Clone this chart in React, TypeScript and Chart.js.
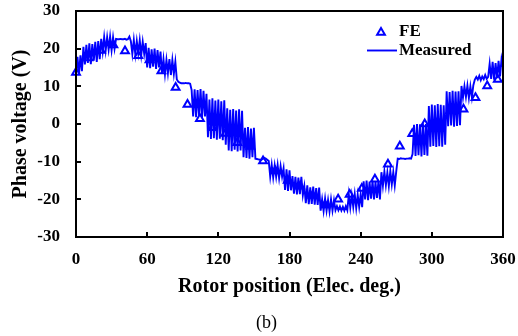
import React, { useEffect, useRef } from "react";
import { Chart, registerables } from "chart.js";

Chart.register(...registerables);

const X_TICKS = [0, 60, 120, 180, 240, 300, 360];
const Y_TICKS = [-30, -20, -10, 0, 10, 20, 30];
const SERIES_NAMES = ["FE", "Measured"];
const X_TITLE = "Rotor position (Elec. deg.)";
const Y_TITLE = "Phase voltage (V)";
const CAPTION = "(b)";

const FE_DEG = [
  0, 10.5, 21, 31.5, 41.3, 52.5, 62, 72, 84, 94, 104.5, 115, 126, 136, 147,
  157.7, 168, 178.5, 189, 199.5, 210, 221, 230.7, 241, 252, 263, 273, 283.5,
  294, 305, 315.5, 326.7, 336.8, 346.7, 355.6,
];
const FE_V = [
  13.7, 17.5, 19.5, 21.0, 19.4, 18.1, 17.0, 14.1, 9.7, 5.2, 1.4, -1.0, -2.5,
  -5.0, -6.0, -9.8, -12.5, -15.0, -16.5, -19.0, -21.5, -20.0, -18.7, -17.1,
  -14.7, -10.7, -5.9, -2.6, 0.0, 0.5, 3.5, 3.9, 7.0, 10.1, 11.8,
];

const MEAS_STEP_DEG = 1.25;
const MEAS_V = [
  // 0-10
  13.5, 17.8, 13.2, 18.2, 14.0, 20.5, 15.8, 21.0,
  // 10-20
  16.2, 21.4, 15.9, 21.2, 16.8, 21.8, 16.5, 22.0,
  // 20-30
  17.2, 22.6, 19.2, 23.1, 19.5, 23.0, 19.8, 23.2,
  // 30-40
  19.6, 23.0, 20.0, 22.6, 22.5, 22.5, 22.6, 22.5,
  // 40-50
  22.5, 22.6, 22.4, 22.5, 23.2, 22.0, 18.6, 22.3,
  // 50-60
  18.5, 22.0, 18.8, 22.2, 18.3, 21.8, 18.6, 21.5,
  // 60-70
  15.0, 20.2, 14.8, 19.8, 15.2, 20.0, 14.6, 19.6,
  // 70-80
  15.0, 19.2, 13.4, 17.2, 13.2, 17.0, 13.5, 17.2,
  // 80-90
  13.0, 17.0, 13.3, 16.5, 11.8, 11.2, 11.0, 10.8,
  // 90-100
  10.8, 10.8, 10.9, 10.8, 10.8, 10.7, 9.0, 2.0,
  // 100-110
  9.2, 1.8, 9.0, 2.2, 9.3, 1.6, 8.8, 2.0,
  // 110-120
  8.0, -3.5, 6.5, -4.0, 6.8, -3.8, 6.2, -4.2,
  // 120-130
  6.5, -3.9, 6.0, -4.3, 6.3, -5.5, 4.2, -7.0,
  // 130-140
  3.8, -7.2, 4.0, -6.8, 3.6, -7.3, 3.9, -7.0,
  // 140-150
  3.5, -8.8, -1.0, -9.0, -0.8, -9.2, -1.2, -8.8,
  // 150-160
  -1.0, -9.2, -9.3, -9.4, -9.5, -9.5, -9.3, -9.0,
  // 160-170
  -9.2, -9.5, -9.8, -14.0, -10.8, -14.2, -11.0, -14.0,
  // 170-180
  -10.9, -14.4, -11.2, -14.0, -11.8, -17.5, -12.0, -17.8,
  // 180-190
  -12.3, -17.6, -13.8, -18.5, -14.0, -18.7, -14.2, -18.6,
  // 190-200
  -14.0, -18.9, -16.5, -21.0, -16.3, -21.3, -16.8, -21.2,
  // 200-210
  -16.6, -21.4, -17.0, -21.5, -16.9, -23.0, -20.0, -23.1,
  // 210-220
  -19.8, -23.0, -20.2, -23.2, -20.0, -23.0, -20.3, -22.9,
  // 220-230
  -21.8, -22.9, -21.9, -23.0, -22.0, -23.0, -21.8, -22.9,
  // 230-240
  -18.7, -22.2, -18.9, -22.0, -18.6, -22.3, -18.8, -22.0,
  // 240-250
  -18.7, -22.1, -15.2, -20.0, -15.0, -20.2, -15.3, -19.8,
  // 250-260
  -15.1, -20.0, -15.4, -19.6, -15.0, -20.0, -12.8, -16.4,
  // 260-270
  -12.6, -16.2, -12.9, -16.5, -12.5, -16.0, -12.8, -16.3,
  // 270-280
  -12.6, -9.2, -9.3, -9.1, -9.2, -9.2, -9.3, -9.2,
  // 280-290
  -9.2, -9.1, -9.2, -8.0, -0.2, -8.5, 0.0, -8.3,
  // 290-300
  -0.1, -8.6, 0.2, -8.2, 0.0, -8.4, 4.8, -6.0,
  // 300-310
  5.2, -5.8, 5.0, -6.1, 5.3, -5.9, 5.1, -6.0,
  // 310-320
  5.0, -5.5, 8.7, -0.6, 8.5, -0.4, 8.8, -0.7,
  // 320-330
  8.6, -0.5, 8.7, -0.3, 10.1, 7.0, 10.0, 7.2,
  // 330-340
  10.2, 6.9, 10.0, 7.1, 10.3, 11.8, 12.5, 11.8,
  // 340-350
  12.8, 11.6, 12.6, 11.9, 13.0, 12.0, 12.5, 16.0,
  // 350-360
  12.0, 16.5, 11.8, 16.2, 12.2, 16.8, 12.6, 17.2, 15.0,
];

const SERIF = '"Liberation Serif", "Times New Roman", Times, serif';
const BLUE = "#0000ff";
const TRI_R = 4.5;

function drawTriangle(ctx: CanvasRenderingContext2D, x: number, y: number, r: number) {
  ctx.beginPath();
  let rad = 0;
  ctx.moveTo(x + Math.sin(rad) * r, y - Math.cos(rad) * r);
  rad += (2 * Math.PI) / 3;
  ctx.lineTo(x + Math.sin(rad) * r, y - Math.cos(rad) * r);
  rad += (2 * Math.PI) / 3;
  ctx.lineTo(x + Math.sin(rad) * r, y - Math.cos(rad) * r);
  ctx.closePath();
}

const framePlugin = {
  id: "frameAndLegend",
  afterDraw(chart: any) {
    const { ctx, chartArea: a, scales } = chart;
    ctx.save();
    // frame
    ctx.strokeStyle = "#000";
    ctx.lineWidth = 2;
    ctx.strokeRect(a.left, a.top, a.right - a.left, a.bottom - a.top);
    // inward ticks
    ctx.beginPath();
    X_TICKS.forEach((v) => {
      const px = Math.round(scales.x.getPixelForValue(v));
      ctx.moveTo(px, a.bottom);
      ctx.lineTo(px, a.bottom - 5);
    });
    Y_TICKS.forEach((v) => {
      const py = Math.round(scales.y.getPixelForValue(v));
      ctx.moveTo(a.left, py);
      ctx.lineTo(a.left + 5, py);
    });
    ctx.stroke();

    // legend
    const textX = a.right - 104;
    ctx.font = `bold 17px ${SERIF}`;
    ctx.textAlign = "left";
    ctx.textBaseline = "middle";
    ctx.strokeStyle = BLUE;
    ctx.lineWidth = 2;
    ctx.fillStyle = "#fff";
    drawTriangle(ctx, a.right - 122, a.top + 21.5, TRI_R);
    ctx.fill();
    ctx.stroke();
    ctx.fillStyle = "#000";
    ctx.fillText(SERIES_NAMES[0], textX, a.top + 20.5);
    ctx.beginPath();
    ctx.moveTo(a.right - 136, a.top + 39.5);
    ctx.lineTo(a.right - 106, a.top + 39.5);
    ctx.lineWidth = 1.9;
    ctx.stroke();
    ctx.fillText(SERIES_NAMES[1], textX, a.top + 40);

    // caption
    ctx.font = `18px ${SERIF}`;
    ctx.textAlign = "center";
    ctx.fillText(CAPTION, 266.5, 323);
    ctx.restore();
  },
};

export default function App() {
  const canvasRef = useRef<HTMLCanvasElement | null>(null);

  useEffect(() => {
    if (!canvasRef.current) return;
    const fePoints = FE_DEG.map((d, i) => ({ x: d, y: FE_V[i] }));
    const measPoints = MEAS_V.map((v, i) => ({ x: i * MEAS_STEP_DEG, y: v }));

    const chart = new Chart(canvasRef.current, {
      type: "scatter",
      data: {
        datasets: [
          {
            label: SERIES_NAMES[0],
            data: fePoints,
            showLine: false,
            pointStyle: "triangle",
            pointRadius: TRI_R,
            pointBorderWidth: 2,
            pointBorderColor: BLUE,
            pointBackgroundColor: "#ffffff",
            borderColor: BLUE,
            backgroundColor: "#ffffff",
            order: 2,
            clip: false as any,
          },
          {
            label: SERIES_NAMES[1],
            data: measPoints,
            showLine: true,
            pointRadius: 0,
            borderColor: BLUE,
            borderWidth: 1.9,
            tension: 0,
            order: 1,
          },
        ],
      },
      options: {
        animation: false,
        responsive: true,
        maintainAspectRatio: false,
        devicePixelRatio: 1,
        layout: { padding: { left: 0, right: 15, top: 11, bottom: 0 } },
        plugins: {
          legend: { display: false },
          tooltip: { enabled: false },
        },
        scales: {
          x: {
            type: "linear",
            min: 0,
            max: 360,
            afterBuildTicks: (s: any) => {
              s.ticks = X_TICKS.map((v) => ({ value: v }));
            },
            afterFit: (s: any) => {
              s.height = 99;
              s.paddingLeft = 0;
              s.paddingRight = 0;
              s.paddingTop = 0;
              s.paddingBottom = 0;
            },
            grid: { display: false, drawTicks: false },
            border: { display: false },
            ticks: {
              color: "#000",
              padding: 12.5,
              maxRotation: 0,
              font: { family: SERIF, size: 17, weight: "bold" },
            },
            title: {
              display: true,
              text: X_TITLE,
              color: "#000",
              font: { family: SERIF, size: 20, weight: "bold" },
              padding: { top: 0, bottom: 37 },
            },
          },
          y: {
            type: "linear",
            min: -30,
            max: 30,
            afterBuildTicks: (s: any) => {
              s.ticks = Y_TICKS.map((v) => ({ value: v }));
            },
            afterFit: (s: any) => {
              s.width = 76;
              s.paddingLeft = 0;
              s.paddingRight = 0;
              s.paddingTop = 0;
              s.paddingBottom = 0;
            },
            grid: { display: false, drawTicks: false },
            border: { display: false },
            ticks: {
              color: "#000",
              padding: 16,
              font: { family: SERIF, size: 17, weight: "bold" },
            },
            title: {
              display: true,
              text: Y_TITLE,
              color: "#000",
              font: { family: SERIF, size: 20, weight: "bold" },
              padding: { top: 9, bottom: 0 },
            },
          },
        },
      },
      plugins: [framePlugin],
    });
    return () => chart.destroy();
  }, []);

  return (
    <div style={{ position: "fixed", left: 0, top: 0, width: 518, height: 336, background: "#fff" }}>
      <canvas ref={canvasRef} />
    </div>
  );
}
